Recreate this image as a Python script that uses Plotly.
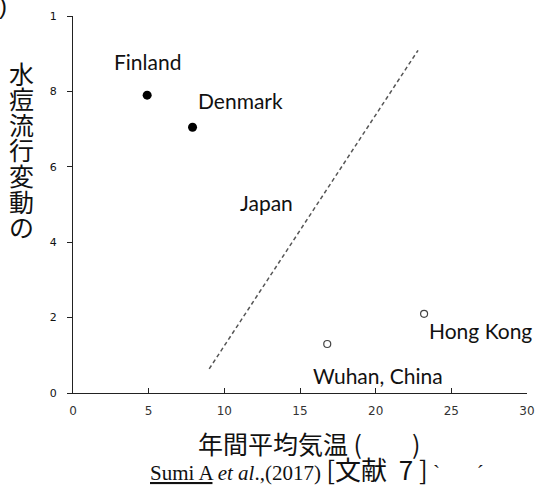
import plotly.graph_objects as go

# Countries: annual mean temperature vs. varicella seasonal amplitude
countries = ["Finland", "Denmark", "Hong Kong", "Wuhan, China"]
temperature = [4.9, 7.9, 23.2, 16.8]
amplitude = [0.79, 0.705, 0.21, 0.13]
filled = [True, True, False, False]

# Dividing line (dashed)
line_x = [9.0, 22.8]
line_y = [0.064, 0.909]

# Japan label position (no marker)
japan_x = 12.76
japan_y = 0.506

x_ticks = [0, 5, 10, 15, 20, 25, 30]
y_ticks = [0, 0.2, 0.4, 0.6, 0.8, 1.0]
y_tick_text = ["0", "2", "4", "6", "8", "1"]

y_title = "水痘流行変動の"
x_title = "年間平均気温 (　　)"
NB = "\u00a0"
CJK_SPAN = '<span style="font-family:Noto Sans CJK JP;font-size:26px">'
citation = ("<u>Sumi A</u> <i>et al</i>.,(2017) "
            + CJK_SPAN + "[文献" + NB * 2 + "7" + NB + "]</span>" + NB + "`　" + NB * 3 + "´")

W, H = 536, 490
L, R, T, B = 73, 9, 16, 97
pw, ph = W - L - R, H - T - B

label_font = dict(family="Lato, Carlito, sans-serif", size=21, color="#111")
cjk_font = dict(family="Noto Sans CJK JP", size=25, color="#111")

fig = go.Figure()

fig.add_trace(go.Scatter(
    x=line_x, y=line_y, mode="lines",
    line=dict(color="#555", width=1.5, dash="4px,3px"),
    hoverinfo="skip", showlegend=False,
))

fx = [t for t, f in zip(temperature, filled) if f]
fy = [a for a, f in zip(amplitude, filled) if f]
ox = [t for t, f in zip(temperature, filled) if not f]
oy = [a for a, f in zip(amplitude, filled) if not f]

fig.add_trace(go.Scatter(
    x=fx, y=fy, mode="markers",
    marker=dict(size=9, color="black"),
    showlegend=False, cliponaxis=False,
))
fig.add_trace(go.Scatter(
    x=ox, y=oy, mode="markers",
    marker=dict(size=7, color="white", line=dict(color="#444", width=1.2)),
    showlegend=False, cliponaxis=False,
))

# label placement relative to each marker (pixels)
label_offsets = {
    "Finland": dict(xanchor="center", xshift=0, yshift=34),
    "Denmark": dict(xanchor="left", xshift=3, yshift=27),
    "Hong Kong": dict(xanchor="left", xshift=3, yshift=-17),
    "Wuhan, China": dict(xanchor="left", xshift=-16, yshift=-32),
}
annotations = []
for name, t, a in zip(countries, temperature, amplitude):
    annotations.append(dict(
        x=t, y=a, xref="x", yref="y", text=name, showarrow=False,
        yanchor="middle", font=label_font, **label_offsets[name],
    ))
annotations.append(dict(
    x=japan_x, y=japan_y, xref="x", yref="y", text="Japan", showarrow=False,
    xanchor="center", yanchor="middle", font=label_font,
))


def page(px, py):
    """Page pixel position -> paper coordinates."""
    return (px - L) / pw, (H - B - py) / ph


# vertical y-axis title, one character per row
for i, ch in enumerate(y_title):
    ax, ay = page(21, 72.5 + i * 25.6)
    annotations.append(dict(
        x=ax, y=ay, xref="paper", yref="paper", text=ch, showarrow=False,
        xanchor="center", yanchor="middle", font=cjk_font,
    ))

ax, ay = page(309, 443)
annotations.append(dict(
    x=ax, y=ay, xref="paper", yref="paper", text=x_title, showarrow=False,
    xanchor="center", yanchor="middle", font=cjk_font,
))
ax, ay = page(148, 468)
annotations.append(dict(
    x=ax, y=ay, xref="paper", yref="paper", text=citation, showarrow=False,
    xanchor="left", yanchor="middle",
    font=dict(family="Liberation Serif", size=21, color="#111"),
))
ax, ay = page(-3, 6)
annotations.append(dict(
    x=ax, y=ay, xref="paper", yref="paper", text=")", showarrow=False,
    xanchor="left", yanchor="middle",
    font=dict(family="Liberation Sans", size=24, color="#111"),
))

fig.update_layout(
    width=W, height=H,
    margin=dict(l=L, r=R, t=T, b=B),
    paper_bgcolor="white", plot_bgcolor="white",
    annotations=annotations,
    showlegend=False,
)
fig.update_xaxes(
    range=[0, 30], tickvals=x_ticks, ticks="inside", ticklen=5,
    tickcolor="#222", showline=True, linecolor="#222", linewidth=1.2,
    showgrid=False, zeroline=False, automargin=False,
    tickfont=dict(family="DejaVu Sans", size=12, color="#333"),
    ticklabelstandoff=6,
)
fig.update_yaxes(
    range=[0, 1], tickvals=y_ticks, ticktext=y_tick_text, ticks="outside",
    ticklen=5, tickcolor="#222", showline=True, linecolor="#222", linewidth=1.2,
    showgrid=False, zeroline=False, automargin=False,
    tickfont=dict(family="DejaVu Sans", size=11, color="#111"),
    ticklabelstandoff=8,
)

fig.write_html("out.html")
